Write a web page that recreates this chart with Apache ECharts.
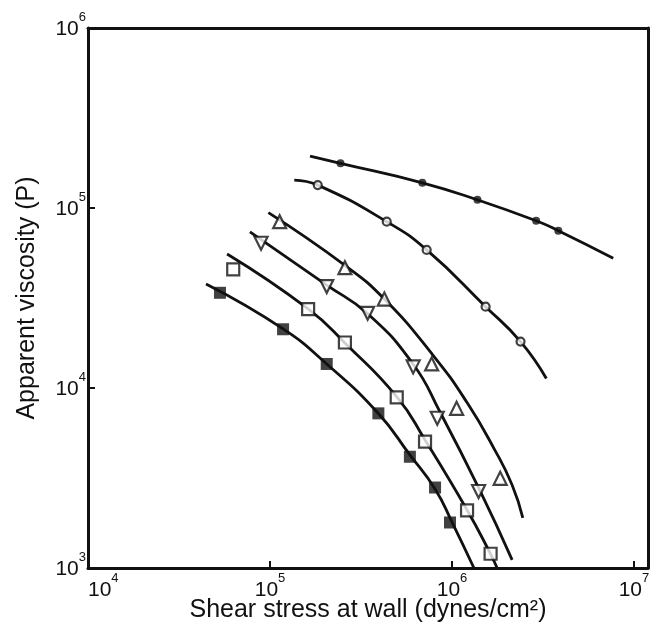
<!DOCTYPE html>
<html>
<head>
    <meta charset="utf-8">
    <title>Apparent viscosity vs shear stress</title>
    <style>
        html, body { margin: 0; padding: 0; background: #fff; }
        #chart { width: 654px; height: 628px; }
    </style>
</head>
<body>
<div id="chart"></div>
<script src="https://cdn.jsdelivr.net/npm/echarts@6/dist/echarts.min.js"></script>
<script type="text/javascript">
    // axis ranges (dynes/cm2 and poise)
    const xMin = 1e4, xMax = 1.194e7;
    const yMin = 1e3, yMax = 1e6;

    // measured points [shear stress, viscosity]
    const filledCircles = [[2.44e5, 1.77e5], [6.87e5, 1.38e5], [1.38e6, 1.11e5], [2.90e6, 8.49e4], [3.84e6, 7.48e4]];
    const openCircles = [[1.83e5, 1.34e5], [4.38e5, 8.39e4], [7.26e5, 5.85e4], [1.53e6, 2.83e4], [2.38e6, 1.81e4]];
    const upTriangles = [[1.13e5, 8.39e4], [2.58e5, 4.66e4], [4.25e5, 3.12e4], [7.73e5, 1.36e4], [1.06e6, 7.71e3], [1.84e6, 3.15e3]];
    const downTriangles = [[8.93e4, 6.37e4], [2.05e5, 3.66e4], [3.44e5, 2.60e4], [6.12e5, 1.31e4], [8.30e5, 6.79e3], [1.40e6, 2.66e3]];
    const openSquares = [[6.28e4, 4.56e4], [1.62e5, 2.74e4], [2.58e5, 1.79e4], [4.97e5, 8.87e3], [7.11e5, 5.03e3], [1.21e6, 2.09e3], [1.63e6, 1.20e3]];
    const filledSquares = [[5.31e4, 3.38e4], [1.18e5, 2.12e4], [2.05e5, 1.36e4], [3.94e5, 7.23e3], [5.87e5, 4.15e3], [8.07e5, 2.80e3], [9.75e5, 1.79e3]];

    // fitted curves
    const curveFilledCircles = [[1.66e5, 1.94e5], [2.44e5, 1.77e5], [6.87e5, 1.38e5], [1.38e6, 1.11e5], [2.90e6, 8.49e4], [3.84e6, 7.48e4], [7.69e6, 5.26e4]];
    const curveOpenCircles = [[1.36e5, 1.43e5], [1.83e5, 1.34e5], [4.38e5, 8.39e4], [7.26e5, 5.85e4], [1.53e6, 2.83e4], [2.38e6, 1.81e4], [3.30e6, 1.13e4]];
    const curveUpTriangles = [[9.80e4, 9.42e4], [2.58e5, 4.80e4], [4.25e5, 3.12e4], [7.87e5, 1.52e4], [1.21e6, 8.30e3], [1.72e6, 4.52e3], [2.14e6, 2.89e3], [2.45e6, 1.90e3]];
    const curveDownTriangles = [[7.76e4, 7.36e4], [2.05e5, 3.73e4], [3.45e5, 2.58e4], [6.11e5, 1.36e4], [8.59e5, 7.36e3], [1.41e6, 2.75e3], [2.14e6, 1.11e3]];
    const curveOpenSquares = [[5.81e4, 5.55e4], [1.62e5, 2.75e4], [2.58e5, 1.78e4], [4.99e5, 8.91e3], [7.11e5, 5.14e3], [1.21e6, 2.10e3], [1.62e6, 1.21e3], [1.77e6, 1.00e3]];
    const curveFilledSquares = [[4.45e4, 3.78e4], [1.18e5, 2.13e4], [2.05e5, 1.36e4], [3.92e5, 7.26e3], [5.87e5, 4.25e3], [8.07e5, 2.75e3], [1.00e6, 1.80e3], [1.32e6, 1.00e3]];

    const ink = '#111';
    const font = 'Liberation Sans, Arial, sans-serif';

    // 10 with a raised exponent, only on whole decades
    function powLabel(v) {
        const e = Math.log10(v);
        if (Math.abs(e - Math.round(e)) > 1e-6) return '';
        return '{b|10}{s|' + Math.round(e) + '}';
    }
    const powRich = {
        b: { fontSize: 21, fontFamily: font, color: ink, lineHeight: 24, verticalAlign: 'bottom' },
        s: { fontSize: 13, fontFamily: font, color: ink, lineHeight: 13, verticalAlign: 'bottom', padding: [0, 0, 16, 0] }
    };

    function curve(data) {
        return {
            type: 'line', data: data, smooth: 0.5, showSymbol: false, silent: true,
            lineStyle: { color: ink, width: 2.8 }, z: 2
        };
    }
    function marks(data, symbol, size, filled, rotate) {
        return {
            type: 'scatter', data: data, symbol: symbol, symbolSize: size, symbolRotate: rotate || 0,
            itemStyle: { color: filled ? ink : '#fff', borderColor: ink, borderWidth: filled ? 0 : 2.2 },
            z: 3
        };
    }

    let myChart = echarts.init(document.getElementById('chart'));
    myChart.setOption({
        backgroundColor: '#fff',
        animation: false,
        grid: { left: 88, right: 6, top: 28, bottom: 60, outerBoundsMode: 'none' },
        xAxis: [{
            type: 'log', min: xMin, max: xMax, logBase: 10,
            name: 'Shear stress at wall (dynes/cm²)', nameLocation: 'middle', nameGap: 30,
            nameMoveOverlap: false,
            nameTextStyle: { fontSize: 25, fontFamily: font, color: ink },
            axisLine: { lineStyle: { color: ink, width: 3 } },
            axisTick: { inside: true, length: 7, lineStyle: { color: ink, width: 2 } },
            axisLabel: { formatter: powLabel, rich: powRich, margin: 9, alignMinLabel: 'left' },
            splitLine: { show: false }, minorTick: { show: false }
        }, {
            type: 'log', min: xMin, max: xMax, position: 'top',
            axisLine: { lineStyle: { color: ink, width: 3 } },
            axisTick: { show: false }, axisLabel: { show: false }, splitLine: { show: false }
        }],
        yAxis: [{
            type: 'log', min: yMin, max: yMax, logBase: 10,
            name: 'Apparent viscosity (P)', nameLocation: 'middle', nameGap: 48,
            nameMoveOverlap: false,
            nameTextStyle: { fontSize: 25, fontFamily: font, color: ink },
            axisLine: { lineStyle: { color: ink, width: 3 } },
            axisTick: { inside: true, length: 7, lineStyle: { color: ink, width: 2 } },
            axisLabel: { formatter: powLabel, rich: powRich, margin: 2 },
            splitLine: { show: false }, minorTick: { show: false }
        }, {
            type: 'log', min: yMin, max: yMax, position: 'right',
            axisLine: { show: true, lineStyle: { color: ink, width: 3 } },
            axisTick: { show: false }, axisLabel: { show: false }, splitLine: { show: false }
        }],
        series: [
            curve(curveFilledCircles), marks(filledCircles, 'circle', 8, true),
            curve(curveOpenCircles), marks(openCircles, 'circle', 8, false),
            curve(curveUpTriangles), marks(upTriangles, 'triangle', 13, false),
            curve(curveDownTriangles), marks(downTriangles, 'triangle', 13, false, 180),
            curve(curveOpenSquares), marks(openSquares, 'rect', 12, false),
            curve(curveFilledSquares), marks(filledSquares, 'rect', 12, true)
        ]
    });
</script>
</body>
</html>
